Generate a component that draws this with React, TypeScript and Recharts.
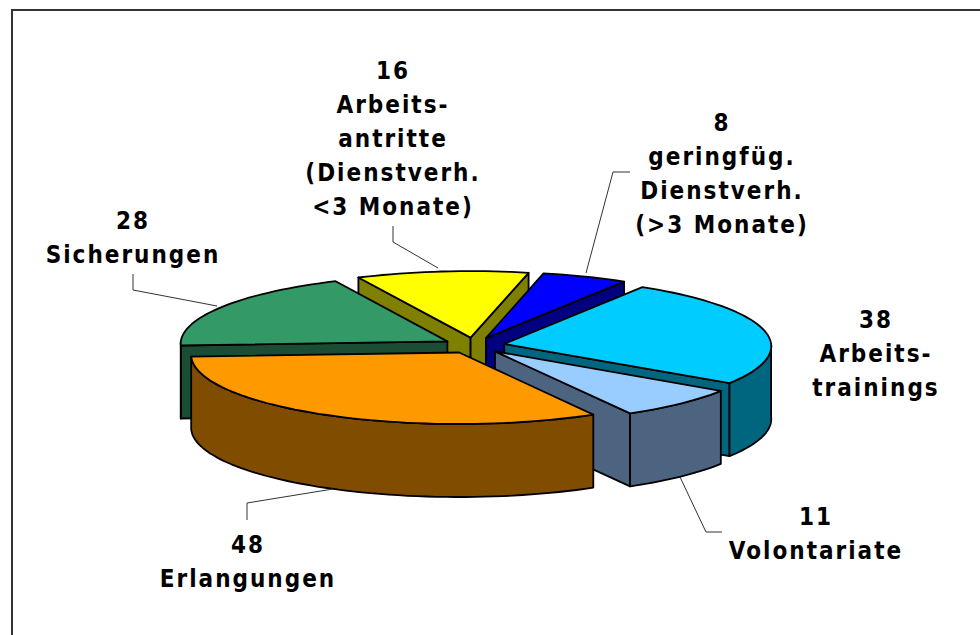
import React from 'react'
import { PieChart, Pie } from 'recharts'

const names = ['Arbeitsantritte', 'geringfüg. Dienstverh.', 'Arbeitstrainings', 'Volontariate', 'Erlangungen', 'Sicherungen']
const values = [16, 8, 38, 11, 48, 28]
const topColors = ['#FFFF00', '#0000FF', '#00CCFF', '#99CCFF', '#FF9900', '#339966']
const sideColors = ['#808000', '#000080', '#006680', '#4D6480', '#804D00', '#1A4D33']
const labelLines = [
  ['16', 'Arbeits-', 'antritte', '(Dienstverh.', '<3 Monate)'],
  ['8', 'geringfüg.', 'Dienstverh.', '(>3 Monate)'],
  ['38', 'Arbeits-', 'trainings'],
  ['11', 'Volontariate'],
  ['48', 'Erlangungen'],
  ['28', 'Sicherungen'],
]

// where each label block sits: centre x, first baseline
const labelAnchors = [
  [393, 79],
  [722, 131],
  [876, 328],
  [816, 525],
  [248, 553],
  [133, 229],
]
const leaders = [
  '393,226 393,242 438,268',
  '630,172 613,172 586,273',
  '',
  '722,532 706,532 680,477',
  '247,520 247,503 333,489',
  '133,274 133,290 217,306',
]

const pieData = names.map((name, i) => ({
  name,
  value: values[i],
  fill: topColors[i],
  side: sideColors[i],
  order: i,
}))

const TILT = 0.2584 // squash of the pie plane
const EXPLODE = 0.116 // slice offset, share of the radius
const PERSPECTIVE = 0.03
const DEPTH = 73
const ORANGE = 4
const rad = (d: number) => (d * Math.PI) / 180

function makeProjector(cx: number, cy: number, r: number, mid: number) {
  const ox = EXPLODE * Math.sin(rad(mid))
  const oy = EXPLODE * Math.cos(rad(mid))
  return (theta: number, radius: number, drop = 0) => {
    const u = radius * Math.sin(rad(theta)) + ox
    const v = radius * Math.cos(rad(theta)) + oy
    const k = 1 - PERSPECTIVE * v
    return [cx + r * u * k, cy - r * TILT * v * k + drop]
  }
}

const toPath = (pts: number[][]) =>
  'M' + pts.map((p) => `${p[0].toFixed(1)},${p[1].toFixed(1)}`).join('L') + 'Z'

function arcPoints(project: ReturnType<typeof makeProjector>, from: number, to: number, drop = 0) {
  const steps = Math.max(2, Math.ceil((to - from) / 2))
  const pts: number[][] = []
  for (let i = 0; i <= steps; i++) pts.push(project(from + ((to - from) * i) / steps, 1, drop))
  return pts
}

function Slice(props: any) {
  const { cx, cy, outerRadius, startAngle, endAngle } = props
  const entry = props.payload ?? props
  const t1 = 90 - startAngle
  const t2 = 90 - endAngle
  const project = makeProjector(cx, cy, outerRadius, (t1 + t2) / 2)
  const apex = project(0, 0)
  const apexLow = project(0, 0, DEPTH)
  const faces: string[] = []
  if (Math.sin(rad(t1)) < 0) {
    faces.push(toPath([apex, project(t1, 1), project(t1, 1, DEPTH), apexLow]))
  }
  if (Math.sin(rad(t2)) > 0) {
    faces.push(toPath([apex, project(t2, 1), project(t2, 1, DEPTH), apexLow]))
  }
  const wallFrom = Math.max(t1, 90)
  const wallTo = Math.min(t2, 270)
  if (wallTo > wallFrom) {
    const top = arcPoints(project, wallFrom, wallTo)
    const low = arcPoints(project, wallFrom, wallTo, DEPTH).reverse()
    faces.push(toPath([...top, ...low]))
  }
  const lineProps = { stroke: '#000', strokeWidth: 1.8, strokeLinejoin: 'round' as const }
  return (
    <g>
      {faces.map((d, i) => (
        <path key={i} d={d} fill={entry.side} {...lineProps} />
      ))}
      <path d={toPath([apex, ...arcPoints(project, t1, t2)])} fill={entry.fill} {...lineProps} />
    </g>
  )
}

const behindShape = (props: any) =>
  (props.payload ?? props).order === ORANGE ? <g /> : <Slice {...props} />
const frontShape = (props: any) =>
  (props.payload ?? props).order === ORANGE ? <Slice {...props} /> : <g />

function SliceLabel({ index }: any) {
  const [x, y] = labelAnchors[index]
  return (
    <g>
      {leaders[index] && <polyline points={leaders[index]} fill="none" stroke="#333" strokeWidth={1} />}
      <text
        x={x}
        y={y}
        textAnchor="middle"
        fontFamily="'DejaVu Sans Condensed', 'DejaVu Sans', sans-serif"
        fontWeight={700}
        fontStretch="condensed"
        fontSize={24}
        letterSpacing={2}
        fill="#000"
      >
        {labelLines[index].map((line, i) => (
          <tspan key={i} x={x} y={y + i * 34}>
            {line}
          </tspan>
        ))}
      </text>
    </g>
  )
}

const pieProps = {
  data: pieData,
  dataKey: 'value',
  nameKey: 'name',
  cx: 474,
  cy: 345.5,
  outerRadius: 267,
  startAngle: 115.7,
  endAngle: -244.3,
  isAnimationActive: false,
}

export default function App() {
  return (
    <div style={{ position: 'absolute', left: 0, top: 0, width: 980, height: 635, background: '#fff', overflow: 'hidden' }}>
      <div style={{ position: 'absolute', left: 11, top: 9, width: 990, height: 650, border: '2px solid #333' }} />
      <PieChart width={980} height={635} margin={{ top: 0, right: 0, bottom: 0, left: 0 }}>
        <Pie {...pieProps} shape={behindShape} />
        <Pie {...pieProps} shape={frontShape} labelLine={false} label={(p: any) => <SliceLabel {...p} />} />
      </PieChart>
    </div>
  )
}
